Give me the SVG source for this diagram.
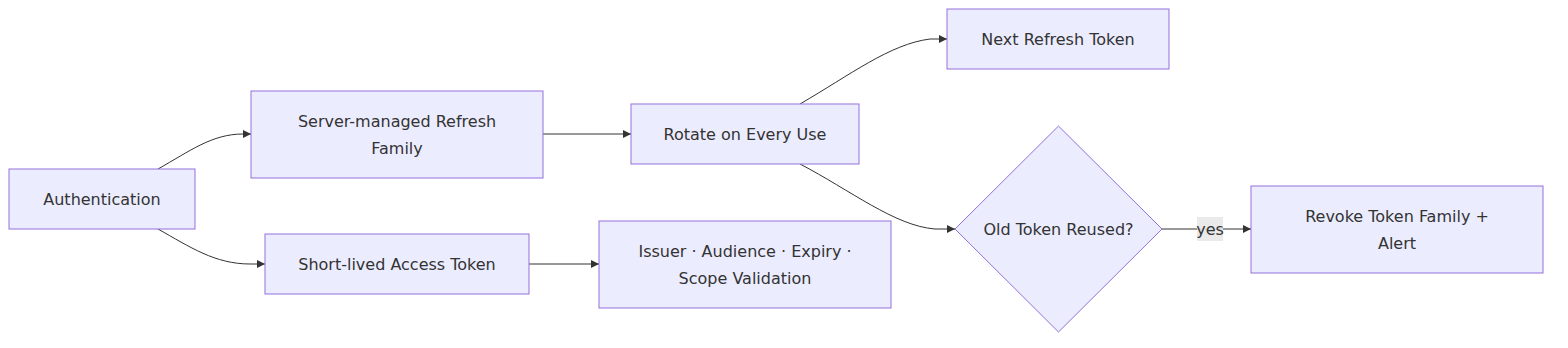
<svg xmlns="http://www.w3.org/2000/svg" width="1568" height="348" viewBox="0 0 1568 348">
<style>
.node rect, .node polygon { fill: #ECECFF; stroke: #9370DB; stroke-width: 1; }
.node text { font-family: "DejaVu Sans", Verdana, sans-serif; font-size: 16px; fill: #333; text-anchor: middle; dominant-baseline: central; }
.edge { fill: none; stroke: #333; stroke-width: 1; }
.lbl { font-family: "DejaVu Sans", Verdana, sans-serif; font-size: 16px; fill: #333; text-anchor: middle; dominant-baseline: central; }
</style>
<defs>
<marker id="arrow" viewBox="0 0 10 10" refX="10" refY="5" markerWidth="8" markerHeight="8" markerUnits="userSpaceOnUse" orient="auto">
<path d="M0,0 L10,5 L0,10 z" fill="#333"/>
</marker>
</defs>
<rect width="1568" height="348" fill="#fff"/>
<g id="connectors">
<path class="edge" d="M158,169 C190,151 212,134 243,134 L251,134" marker-end="url(#arrow)"/>
<path class="edge" d="M158,229 C190,247 215,264 250,264 L265,264" marker-end="url(#arrow)"/>
<path class="edge" d="M543,134 L631,134" marker-end="url(#arrow)"/>
<path class="edge" d="M529,264 L599,264" marker-end="url(#arrow)"/>
<path class="edge" d="M800,104 C850,75 890,44 930,39 L947,39" marker-end="url(#arrow)"/>
<path class="edge" d="M800,164 C850,190 895,226 935,229 L955,229" marker-end="url(#arrow)"/>
<path class="edge" d="M1162,229 L1251,229" marker-end="url(#arrow)"/>
<rect x="1197" y="217" width="26" height="24" fill="#e8e8e8" opacity="0.9"/>
<text class="lbl" x="1210" y="229">yes</text>
</g>
<g id="auth" class="node"><rect x="9" y="169" width="186" height="60"/><text x="102" y="199">Authentication</text></g>
<g id="refresh" class="node"><rect x="251" y="91" width="292" height="87"/><text x="397" y="121">Server-managed Refresh</text><text x="397" y="148">Family</text></g>
<g id="access" class="node"><rect x="265" y="234" width="264" height="60"/><text x="397" y="264">Short-lived Access Token</text></g>
<g id="rotate" class="node"><rect x="631" y="104" width="228" height="60"/><text x="745" y="134">Rotate on Every Use</text></g>
<g id="validate" class="node"><rect x="599" y="221" width="292" height="87"/><text x="745" y="251">Issuer · Audience · Expiry ·</text><text x="745" y="278">Scope Validation</text></g>
<g id="next" class="node"><rect x="947" y="9" width="222" height="60"/><text x="1058" y="39">Next Refresh Token</text></g>
<g id="reused" class="node"><polygon points="1058.5,126 1162,229 1058.5,332 955,229"/><text x="1058.5" y="229">Old Token Reused?</text></g>
<g id="revoke" class="node"><rect x="1251" y="186" width="292" height="87"/><text x="1397" y="216">Revoke Token Family +</text><text x="1397" y="243">Alert</text></g>
</svg>
